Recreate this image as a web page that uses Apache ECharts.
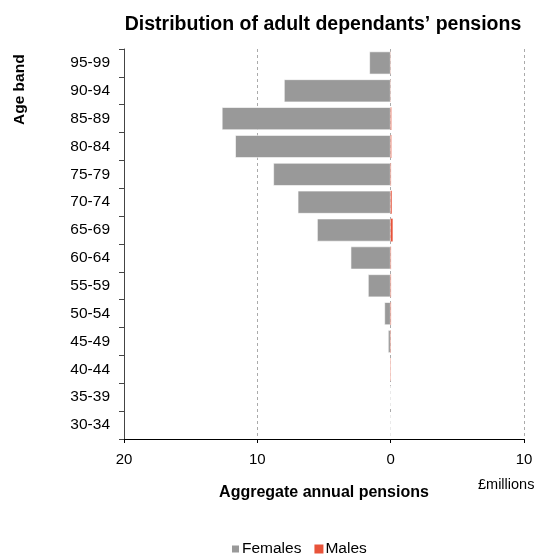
<!DOCTYPE html>
<html>
<head>
<meta charset="utf-8">
<script src="https://cdn.jsdelivr.net/npm/echarts@6/dist/echarts.min.js"></script>
<style>
  html, body { margin: 0; padding: 0; background: #fff; }
  #chart { width: 547px; height: 558px; }
</style>
</head>
<body>
<div id="chart"></div>
<script>
// Age bands, bottom to top
const ageBands = ['30-34','35-39','40-44','45-49','50-54','55-59','60-64','65-69','70-74','75-79','80-84','85-89','90-94','95-99'];
// Aggregate annual pensions, £ millions
const females = [0, 0, 0.02, 0.2, 0.47, 1.7, 3.0, 5.52, 6.97, 8.8, 11.66, 12.66, 8.0, 1.6];
const males   = [0, 0, 0.02, 0.02, 0.03, 0.03, 0.03, 0.15, 0.08, 0.03, 0.05, 0.05, 0.01, 0.01];
const xTicks = { min: -20, max: 10, step: 10 };

const font = 'Liberation Sans, Arial, sans-serif';
const chart = echarts.init(document.getElementById('chart'));
chart.setOption({
  animation: false,
  textStyle: { fontFamily: font },
  title: {
    text: 'Distribution of adult dependants\u2019 pensions',
    left: 318, top: 10, textAlign: 'center',
    textStyle: { fontFamily: font, fontSize: 19.5, fontWeight: 'bold', color: '#000' }
  },
  legend: {
    data: ['Females', 'Males'],
    left: 225, top: 536,
    itemWidth: 9, itemHeight: 9, itemGap: 13,
    icon: 'rect',
    textStyle: { fontFamily: font, fontSize: 15.5, color: '#000', padding: [0, 0, 0, -3] }
  },
  grid: { left: 124, right: 23, top: 49, bottom: 119, containLabel: false },
  xAxis: {
    type: 'value',
    min: xTicks.min, max: xTicks.max, interval: xTicks.step,
    axisLine: { show: true, lineStyle: { color: '#000', width: 1 } },
    axisTick: { show: true, length: 4, lineStyle: { color: '#000' } },
    axisLabel: { formatter: v => String(Math.abs(v)), fontSize: 15, color: '#000', margin: 13, fontFamily: font },
    splitLine: { show: true, lineStyle: { type: [3, 3], color: '#aaa', width: 1 } },
    name: 'Aggregate annual pensions',
    nameLocation: 'middle', nameGap: 46,
    nameTextStyle: { fontSize: 16, fontWeight: 'bold', color: '#000', fontFamily: font, padding: [0, 0, 0, 0] }
  },
  yAxis: {
    type: 'category',
    data: ageBands,
    axisLine: { show: true, onZero: false, lineStyle: { color: '#444', width: 1 } },
    axisTick: { show: true, length: 5, lineStyle: { color: '#444' } },
    axisLabel: { fontSize: 15.5, color: '#000', margin: 14, fontFamily: font },
    splitLine: { show: false }
  },
  graphic: [
    {
      type: 'text', left: 478, top: 477,
      style: { text: '\u00a3millions', font: '14.5px ' + font, fill: '#000' }
    },
    {
      type: 'text', x: 20, y: 125, rotation: Math.PI / 2,
      style: { text: 'Age band', font: 'bold 15.5px ' + font, fill: '#000', align: 'left', verticalAlign: 'middle' }
    }
  ],
  series: [
    {
      name: 'Females', type: 'bar', stack: 'total',
      data: females.map(v => -v),
      barCategoryGap: '18%',
      itemStyle: { color: '#999999', borderColor: '#fff', borderWidth: 0.6 }
    },
    {
      name: 'Males', type: 'bar', stack: 'total',
      data: males,
      itemStyle: { color: '#E8533A' }
    }
  ]
});
</script>
</body>
</html>
